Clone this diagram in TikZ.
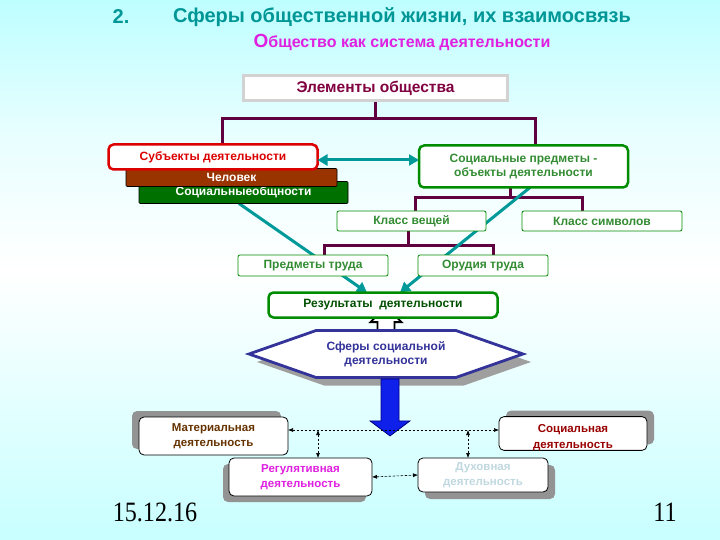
\documentclass[tikz,border=0pt]{standalone}
\usepackage{fontspec}
\setmainfont{Liberation Sans}
\newfontfamily\datefont{Liberation Serif}
\usepackage{tikz}
\usetikzlibrary{arrows.meta,positioning,calc,shapes.symbols,shadows}
\pgfdeclarelayer{bg}
\pgfdeclarelayer{back}
\pgfsetlayers{bg,back,main}

\definecolor{ttl}{RGB}{0,150,150}
\definecolor{mag}{RGB}{224,32,224}
\definecolor{wine}{RGB}{128,0,64}
\definecolor{plum}{RGB}{96,0,64}
\definecolor{rd}{RGB}{220,0,0}
\definecolor{brn}{RGB}{153,51,0}
\definecolor{dgrn}{RGB}{0,112,0}
\definecolor{grn}{RGB}{0,140,0}
\definecolor{lgrn}{RGB}{51,140,51}
\definecolor{rgrn}{RGB}{0,80,0}
\definecolor{cue}{RGB}{0,153,153}
\definecolor{navy2}{RGB}{51,51,153}
\definecolor{matc}{RGB}{102,51,0}
\definecolor{socc}{RGB}{153,0,0}
\definecolor{duhc}{RGB}{192,216,224}

\begin{document}
\begin{tikzpicture}[x=1pt,y=-1pt,
  blk/.style={draw=grn,rounded corners=2pt,fill=white,align=center,inner sep=0pt,outer sep=0pt,
    font=\bfseries\fontsize{12}{14}\selectfont,text=lgrn},
  thin blk/.style={blk,line width=0.8pt},
  thick blk/.style={blk,line width=2.5pt,rounded corners=5pt},
  layer/.style={blk,draw=black,line width=0.6pt,rounded corners=1pt,text=white},
  act/.style={blk,draw=black,line width=0.8pt,rounded corners=5pt,font=\bfseries\fontsize{11.5}{15.5}\selectfont},
  tree/.style={plum,line width=3pt},
  arr/.style={cue,line width=3pt,-{Triangle[length=10pt,width=11pt]}},
  dasharr/.style={black,line width=0.6pt,dash pattern=on 2.5pt off 1.5pt,
    {Latex[length=5pt,width=4pt]}-{Latex[length=5pt,width=4pt]}}]
% background
\begin{pgfonlayer}{bg}
\shade[top color={rgb,255:red,190;green,254;blue,255},bottom color=white,middle color={rgb,255:red,232;green,254;blue,255}]
  (0,0) rectangle (720,270);
\shade[top color=white,bottom color={rgb,255:red,200;green,255;blue,255}] (0,270) rectangle (720,540);
\end{pgfonlayer}
\useasboundingbox (0,0) rectangle (720,540);

% titles
\node[text=ttl,font=\bfseries\fontsize{20}{22}\selectfont] (num) at (121,17) {2.};
\node[text=ttl,font=\bfseries\fontsize{20}{22}\selectfont] (ttl) at (402,17) {Сферы общественной жизни, их взаимосвязь};
\node[text=mag,font=\bfseries\fontsize{16}{18}\selectfont] (sub) at (402,42) {{\fontsize{19}{20}\selectfont О}бщество как система деятельности};

% elements
\node[blk,draw=gray!55!black,double=gray!35,double distance=2.5pt,rounded corners=0pt,
  minimum width=264,minimum height=25,text=wine,font=\bfseries\fontsize{15.5}{18}\selectfont] (elem) at (375.5,88) {Элементы общества};
\node[layer,fill=dgrn,minimum width=209,minimum height=22] (socg) at (243.5,192.5) {Социальныеобщности};
\node[layer,fill=brn,minimum width=211,minimum height=18] (chel) at (231.5,177.5) {\raisebox{-3pt}{Человек}};
\node[thick blk,draw=rd,text=rd,minimum width=209,minimum height=25] (subj) at (213,157) {Субъекты деятельности};
\node[thick blk,minimum width=209,minimum height=42] (obj) at (523.5,166.5) {Социальные предметы -\\объекты деятельности};
\node[thin blk,minimum width=149,minimum height=20] (kv) at (411.5,221) {Класс вещей};
\node[thin blk,minimum width=160,minimum height=20] (ks) at (602,221) {Класс символов};
\node[thin blk,minimum width=150,minimum height=21] (pt) at (313,265.5) {Предметы труда};
\node[thin blk,minimum width=130,minimum height=21] (ot) at (483,265.5) {Орудия труда};
\node[thick blk,text=rgrn,minimum width=229,minimum height=25] (res) at (383,305) {Результаты\ \ деятельности};

% spheres
\node[shape=signal,signal to=west and east,signal pointer angle=38.6,draw=navy2,line width=2.8pt,fill=white,
  minimum width=274,minimum height=47,inner sep=0pt,text=navy2,align=center,
  font=\bfseries\fontsize{12}{14}\selectfont,
  drop shadow={shadow xshift=8pt,shadow yshift=-8pt,fill=gray!75,opacity=1}] (hex) at (386,354) {Сферы социальной\\деятельности};
\draw[draw=blue!50!black,line width=0.8pt,fill={rgb,255:red,16;green,32;blue,235}]
  ($(hex.south)+(-5,0)$) -- ++(0,42) -- ++(-11,0) -- ++(20,15) -- ++(20,-15) -- ++(-11,0) -- ++(0,-42) -- cycle;

\node[act,text=matc,minimum width=149,minimum height=38,
  drop shadow={shadow xshift=-7pt,shadow yshift=6pt,fill=gray!85,opacity=1}] (mat) at (213.5,436) {Материальная\\деятельность};
\node[act,text=socc,minimum width=148,minimum height=33,
  drop shadow={shadow xshift=7pt,shadow yshift=6pt,fill=gray!85,opacity=1}] (soc) at (573,433.5) {\rule{0pt}{16pt}Социальная\\деятельность};
\node[act,text=mag,minimum width=143,minimum height=38,
  drop shadow={shadow xshift=-6pt,shadow yshift=-6pt,fill=gray!85,opacity=1}] (reg) at (300.5,477) {Регулятивная\\деятельность};
\node[act,text=duhc,minimum width=130,minimum height=34,
  drop shadow={shadow xshift=7pt,shadow yshift=-7pt,fill=gray!85,opacity=1}] (duh) at (483,475) {Духовная\\деятельность};

% connectors
\begin{pgfonlayer}{back}
\draw[tree] (elem.south) -- ++(0,18) coordinate (j1);
\draw[tree] (j1) -| ($(subj.north)+(9,0)$);
\draw[tree] (j1) -| ($(obj.north)+(11.5,0)$);
\draw[tree] ($(obj.south)+(-13,0)$) -- ++(0,10) coordinate (j2);
\draw[tree] (j2) -| ($(kv.north)+(3.5,0)$);
\draw[tree] (j2) -| ($(ks.north)+(-20,0)$);
\draw[tree] ($(kv.south)+(-3.5,0)$) -- ++(0,14) coordinate (j3);
\draw[tree] (j3) -| ($(pt.north)+(11,0)$);
\draw[tree] (j3) -| ($(ot.north)+(10,0)$);
\draw[arr] ($(socg.south)+(-4.5,0)$) -- ($(res.north)+(-16,0)$);
\draw[arr] ($(obj.south)+(6.5,0)$) -- ($(res.north)+(17,0)$);
\draw[black,fill=white,line width=1.8pt] ($(hex.north)+(-8.5,2)$) -- ++(0,-9) -- ++(-7,0) -- ++(15.5,-16)
  -- ++(15.5,16) -- ++(-7,0) -- ++(0,9);
\end{pgfonlayer}
\draw[arr,{Triangle[length=10pt,width=11pt]}-{Triangle[length=10pt,width=11pt]}] ($(subj.east)+(0,3)$) -- ($(subj.east -| obj.west)+(0,3)$);

\coordinate (hl) at (0,430);
\draw[dasharr] (mat.east |- hl) -- (soc.west |- hl);
\draw[dasharr] (318,430) coordinate (v1) -- (v1 |- reg.north);
\draw[dasharr] (468,430) coordinate (v2) -- (v2 |- duh.north);
\draw[dasharr] (reg.east) -- (duh.west);

% footer
\node[font=\datefont\fontsize{28}{30}\selectfont] (date) at (155,512) {\scalebox{0.86}[1]{15.12.16}};
\node[font=\datefont\fontsize{28}{30}\selectfont] (page) at (665,512) {\scalebox{0.86}[1]{11}};
\end{tikzpicture}
\end{document}
